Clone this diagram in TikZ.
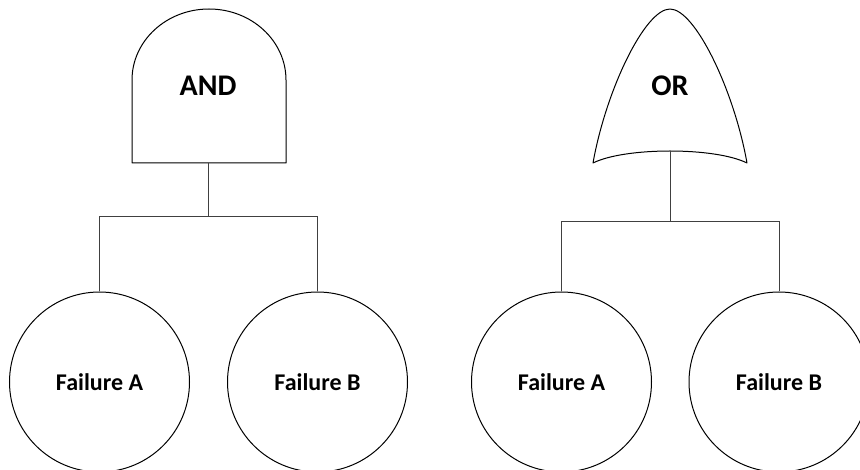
\documentclass[tikz,border=0pt]{standalone}
\usepackage{fontspec}
\setmainfont{Carlito}
\begin{document}
\begin{tikzpicture}[x=1pt,y=-1pt,
  gate/.style={draw=black, line width=1pt, line join=round},
  wire/.style={draw=black!75, line width=1pt},
  event/.style={circle, draw=black, line width=1pt, minimum size=180pt, inner sep=0pt,
    font=\fontsize{24}{28}\selectfont\bfseries},
  gatelabel/.style={font=\fontsize{30}{34}\selectfont\bfseries}]
\useasboundingbox[fill=white] (0,0) rectangle (860,470);

% AND gate: flat bottom, straight sides, half-elliptic top
\draw[gate] (132,163) -- (132,80)
  arc[start angle=180, end angle=0, x radius=77pt, y radius=71pt]
  -- (286,163) -- cycle;
\node[gatelabel] (andlbl) at (208,86) {AND};
\coordinate (andout) at (208,163);
\coordinate (andbus) at (208,217);

% OR gate: pointed arch with a concave base
\draw[gate] (593,163) .. controls (606,90) and (645,9) .. (670,9)
  .. controls (695,9) and (734,90) .. (747,163)
  .. controls (715,147) and (625,147) .. (593,163) -- cycle;
\node[gatelabel] (orlbl) at (670,86) {OR};
\coordinate (orout) at (670,151);
\coordinate (orbus) at (670,222);

% basic events
\node[event] (fa1) at (99.5,382) {Failure A};
\node[event] (fb1) at (317.5,382) {Failure B};
\node[event] (fa2) at (561.5,382) {Failure A};
\node[event] (fb2) at (779,382) {Failure B};

% connectors
\draw[wire] (andout) -- (andbus);
\draw[wire] (andbus) -| (fa1.north);
\draw[wire] (andbus) -| (fb1.north);
\draw[wire] (orout) -- (orbus);
\draw[wire] (orbus) -| (fa2.north);
\draw[wire] (orbus) -| (fb2.north);
\end{tikzpicture}
\end{document}
